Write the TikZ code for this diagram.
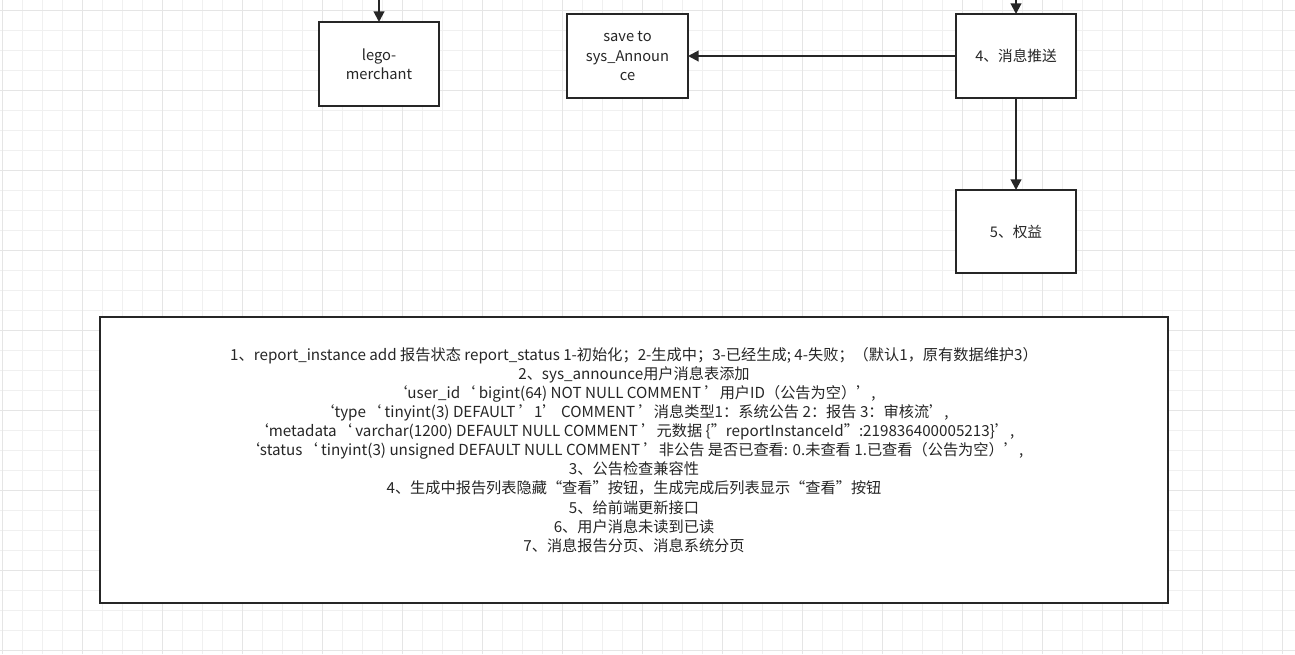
\documentclass[tikz,border=0pt]{standalone}
\usepackage{fontspec}
\setmainfont{Noto Sans CJK SC}
\usetikzlibrary{arrows.meta}
\newcommand{\bq}{\symbol{96}}
\newcommand{\sq}{\symbol{39}}
\newcommand{\dq}{\symbol{34}}
\begin{document}
\begin{tikzpicture}[x=0.75pt,y=-0.75pt,
  box/.style={draw=black!85,line width=1.5pt,fill=white,minimum width=0,inner sep=0},
  lbl/.style={align=center,font=\fontsize{11}{14.3}\selectfont,text=black!85},
  arr/.style={draw=black!85,line width=1.5pt,-{Triangle[length=8pt,width=8pt]}}]
\useasboundingbox (0,0) rectangle (1295,654);
\fill[white] (0,0) rectangle (1295,654);
\foreach \i in {0,20,...,1295} \draw[black!6,line width=0.5pt] (\i+2,0) -- (\i+2,654);
\foreach \i in {0,20,...,654} \draw[black!6,line width=0.5pt] (0,\i+10) -- (1295,\i+10);
\foreach \i in {0,80,...,1295} \draw[black!10,line width=0.5pt] (\i+2,0) -- (\i+2,654);
\foreach \i in {0,80,...,654} \draw[black!10,line width=0.5pt] (0,\i+10) -- (1295,\i+10);
\draw[box] (319,22) rectangle (439,106);
\node[lbl] (lm) at (379,64) {lego-\\merchant};
\draw[box] (567,14) rectangle (688,98);
\node[lbl] (sv) at (627.5,56) {save to\\sys\_Announ\\ce};
\draw[box] (956,14) rectangle (1076,98);
\node[lbl] (m4) at (1016,56) {4、消息推送};
\draw[box] (956,190) rectangle (1076,273);
\node[lbl] (m5) at (1016,232) {5、权益};
\draw[box] (100,317) rectangle (1168,603);
\node[lbl,font=\fontsize{11.4}{14.3}\selectfont] (big) at (634,450) {1、report\_instance add 报告状态 report\_status 1-初始化；2-生成中；3-已经生成; 4-失败；（默认1，原有数据维护3）\\
2、sys\_announce用户消息表添加\\
\bq user\_id\bq{} bigint(64) NOT NULL COMMENT \sq 用户ID（公告为空）\sq,\\
\bq type\bq{} tinyint(3) DEFAULT \sq 1\sq{} COMMENT \sq 消息类型1：系统公告 2：报告 3：审核流\sq,\\
\bq metadata\bq{} varchar(1200) DEFAULT NULL COMMENT \sq 元数据 \{\dq reportInstanceId\dq:219836400005213\}\sq,\\
\bq status\bq{} tinyint(3) unsigned DEFAULT NULL COMMENT \sq 非公告 是否已查看: 0.未查看 1.已查看（公告为空）\sq,\\
3、公告检查兼容性\\
4、生成中报告列表隐藏“查看”按钮，生成完成后列表显示“查看”按钮\\
5、给前端更新接口\\
6、用户消息未读到已读\\
7、消息报告分页、消息系统分页};
\coordinate (t1) at (379,0);
\coordinate (t4) at (1016,0);
\coordinate (lmT) at (379,22);
\coordinate (m4T) at (1016,14);
\coordinate (m4L) at (956,56);
\coordinate (svR) at (688,56);
\coordinate (m4B) at (1016,98);
\coordinate (m5T) at (1016,190);
\draw[arr] (t1) -- (lmT);
\draw[arr] (t4) -- (m4T);
\draw[arr] (m4L) -- (svR);
\draw[arr] (m4B) -- (m5T);
\end{tikzpicture}
\end{document}
